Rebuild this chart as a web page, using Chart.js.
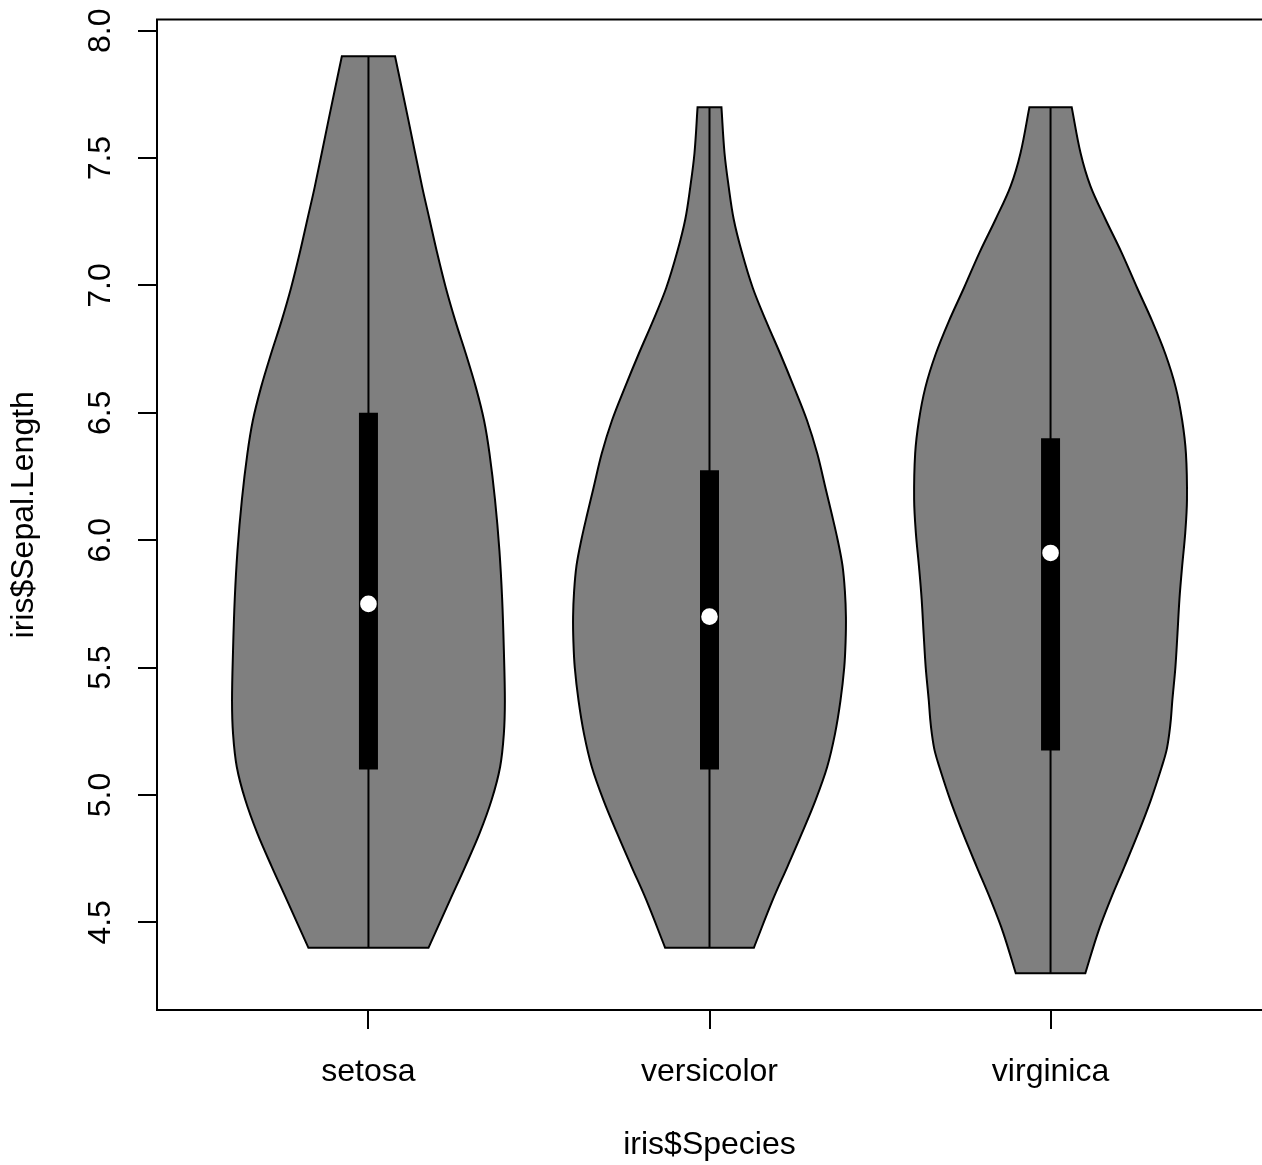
<!DOCTYPE html>
<html>
<head>
<meta charset="utf-8">
<script src="https://cdn.jsdelivr.net/npm/chart.js@4.4.1/dist/chart.umd.min.js"></script>
<style>
  html, body { margin: 0; padding: 0; background: #fff; overflow: hidden; }
  canvas { display: block; }
</style>
</head>
<body>
<canvas id="violin" width="1262" height="1165"></canvas>
<script>
var species = ["setosa", "versicolor", "virginica"];
var positions = [1, 2, 3];

var yTickValues = [4.5, 5.0, 5.5, 6.0, 6.5, 7.0, 7.5, 8.0];
var yTickLabels = ["4.5", "5.0", "5.5", "6.0", "6.5", "7.0", "7.5", "8.0"];

// density outline: sepal length level -> half width (x units)
var setosaLevels = [4.4, 4.59, 4.72, 4.85, 4.98, 5.11, 5.24, 5.37, 5.57, 5.77, 5.96, 6.16, 6.34, 6.47, 6.6, 6.73, 6.86, 6.99, 7.13, 7.26, 7.39, 7.65, 7.9];
var setosaHalfWidth = [0.176, 0.240, 0.284, 0.326, 0.361, 0.386, 0.397, 0.400, 0.397, 0.392, 0.384, 0.371, 0.355, 0.339, 0.315, 0.286, 0.255, 0.227, 0.201, 0.179, 0.157, 0.117, 0.078];

var versicolorLevels = [4.4, 4.59, 4.72, 4.85, 4.98, 5.11, 5.24, 5.37, 5.5, 5.6, 5.7, 5.8, 5.9, 6.0, 6.1, 6.2, 6.34, 6.47, 6.6, 6.73, 6.86, 6.99, 7.13, 7.26, 7.39, 7.52, 7.7];
var versicolorHalfWidth = [0.130, 0.186, 0.229, 0.271, 0.311, 0.345, 0.368, 0.384, 0.395, 0.399, 0.400, 0.397, 0.390, 0.376, 0.359, 0.341, 0.316, 0.286, 0.248, 0.208, 0.166, 0.127, 0.095, 0.071, 0.056, 0.044, 0.035];

var virginicaLevels = [4.3, 4.46, 4.59, 4.72, 4.85, 4.98, 5.11, 5.175, 5.24, 5.3, 5.37, 5.5, 5.63, 5.77, 5.9, 6.03, 6.16, 6.34, 6.47, 6.6, 6.73, 6.86, 6.99, 7.13, 7.26, 7.39, 7.52, 7.7];
var virginicaHalfWidth = [0.102, 0.139, 0.176, 0.217, 0.257, 0.294, 0.326, 0.340, 0.348, 0.353, 0.357, 0.366, 0.372, 0.378, 0.386, 0.395, 0.400, 0.397, 0.386, 0.367, 0.337, 0.298, 0.254, 0.208, 0.161, 0.117, 0.088, 0.062];

var whiskerLow = [4.4, 4.4, 4.3];
var whiskerHigh = [7.9, 7.7, 7.7];
var q1 = [5.1, 5.1, 5.175];
var q3 = [6.5, 6.275, 6.4];
var medians = [5.75, 5.7, 5.95];

var levels = [setosaLevels, versicolorLevels, virginicaLevels];
var halfWidths = [setosaHalfWidth, versicolorHalfWidth, virginicaHalfWidth];

// closed outline: up the left side, across the top, down the right side.
// end points are doubled so the flat top and bottom keep sharp corners
function violinShape(center, lv, hw) {
    var n = lv.length;
    var pts = [{x: center, y: lv[0]}];
    for (let i = 0; i < n; i++) {
        pts.push({x: center - hw[i], y: lv[i]});
        if (i == 0 || i == n - 1) pts.push({x: center - hw[i], y: lv[i]});
    }
    for (let i = n - 1; i >= 0; i--) {
        pts.push({x: center + hw[i], y: lv[i]});
        if (i == 0 || i == n - 1) pts.push({x: center + hw[i], y: lv[i]});
    }
    pts.push({x: center, y: lv[0]});
    return pts;
}

var datasets = [];

for (let i = 0; i < species.length; i++) {
    datasets.push({
        label: species[i],
        data: violinShape(positions[i], levels[i], halfWidths[i]),
        showLine: true,
        indexAxis: "y",
        fill: "shape",
        backgroundColor: "#7f7f7f",
        borderColor: "#000",
        borderWidth: 2,
        tension: 0.35,
        pointRadius: 0,
        pointHoverRadius: 0,
        order: 3
    });
    datasets.push({
        label: species[i] + " range",
        data: [{x: positions[i], y: whiskerLow[i]}, {x: positions[i], y: whiskerHigh[i]}],
        showLine: true,
        borderColor: "#000",
        borderWidth: 2,
        pointRadius: 0,
        pointHoverRadius: 0,
        order: 2
    });
    datasets.push({
        label: species[i] + " box",
        data: [{x: positions[i], y: q1[i]}, {x: positions[i], y: q3[i]}],
        showLine: true,
        borderColor: "#000",
        borderWidth: 19,
        borderCapStyle: "butt",
        pointRadius: 0,
        pointHoverRadius: 0,
        order: 1
    });
}

datasets.push({
    label: "median",
    data: positions.map(function(p, i){ return {x: p, y: medians[i]}; }),
    showLine: false,
    pointRadius: 8.3,
    pointHoverRadius: 8.3,
    pointBackgroundColor: "#fff",
    pointBorderWidth: 0,
    order: 0
});

// frame round the plot; its right side falls just off the canvas, as in the original
var plotBox = {
    id: "plotBox",
    afterDatasetsDraw: function(chart){
        var a = chart.chartArea;
        var ctx = chart.ctx;
        ctx.save();
        ctx.strokeStyle = "#000";
        ctx.lineWidth = 2;
        ctx.beginPath();
        ctx.moveTo(a.right + 2, a.top);
        ctx.lineTo(a.left, a.top);
        ctx.lineTo(a.left, a.bottom);
        ctx.lineTo(a.right + 2, a.bottom);
        ctx.stroke();
        ctx.restore();
    }
};

// R writes the y tick labels parallel to the axis
var uprightYLabels = {
    id: "uprightYLabels",
    afterDraw: function(chart){
        var ctx = chart.ctx;
        var ys = chart.scales.y;
        ctx.save();
        ctx.font = '32px "Liberation Sans", Arial, sans-serif';
        ctx.fillStyle = "#000";
        ctx.textAlign = "center";
        ctx.textBaseline = "alphabetic";
        for (let i = 0; i < yTickValues.length; i++) {
            ctx.save();
            ctx.translate(ys.right - 47, ys.getPixelForValue(yTickValues[i]));
            ctx.rotate(-Math.PI / 2);
            ctx.fillText(yTickLabels[i], 0, 0);
            ctx.restore();
        }
        ctx.restore();
    }
};

Chart.defaults.font.family = '"Liberation Sans", Arial, sans-serif';
Chart.defaults.color = "#000";

var violinChart = new Chart(document.getElementById("violin"), {
    type: "scatter",
    data: {datasets: datasets},
    options: {
        responsive: false,
        animation: false,
        events: [],
        devicePixelRatio: 1,
        layout: {autoPadding: false, padding: {top: 19.5, right: 0, bottom: 0, left: 0}},
        plugins: {
            legend: {display: false},
            tooltip: {enabled: false}
        },
        scales: {
            x: {
                type: "linear",
                min: 0.38,
                max: 3.62,
                afterBuildTicks: function(s){ s.ticks = positions.map(function(v){ return {value: v}; }); },
                afterFit: function(s){ s.height = 155; },
                border: {display: false},
                grid: {drawOnChartArea: false, drawTicks: true, tickLength: 19, color: "#000", lineWidth: 2},
                ticks: {
                    callback: function(v){ return species[positions.indexOf(v)]; },
                    font: {size: 32},
                    color: "#000",
                    padding: 24,
                    maxRotation: 0,
                    autoSkip: false
                },
                title: {display: true, text: "iris$Species", font: {size: 32}, color: "#000", padding: {top: 0, bottom: 1}}
            },
            y: {
                type: "linear",
                min: 4.156,
                max: 8.044,
                afterBuildTicks: function(s){ s.ticks = yTickValues.map(function(v){ return {value: v}; }); },
                afterFit: function(s){ s.width = 157; },
                border: {display: false},
                grid: {drawOnChartArea: false, drawTicks: true, tickLength: 19, color: "#000", lineWidth: 2},
                ticks: {display: false},
                title: {display: true, text: "iris$Sepal.Length", font: {size: 32}, color: "#000", padding: {top: 5, bottom: 0}}
            }
        }
    },
    plugins: [plotBox, uprightYLabels]
});
</script>
</body>
</html>
